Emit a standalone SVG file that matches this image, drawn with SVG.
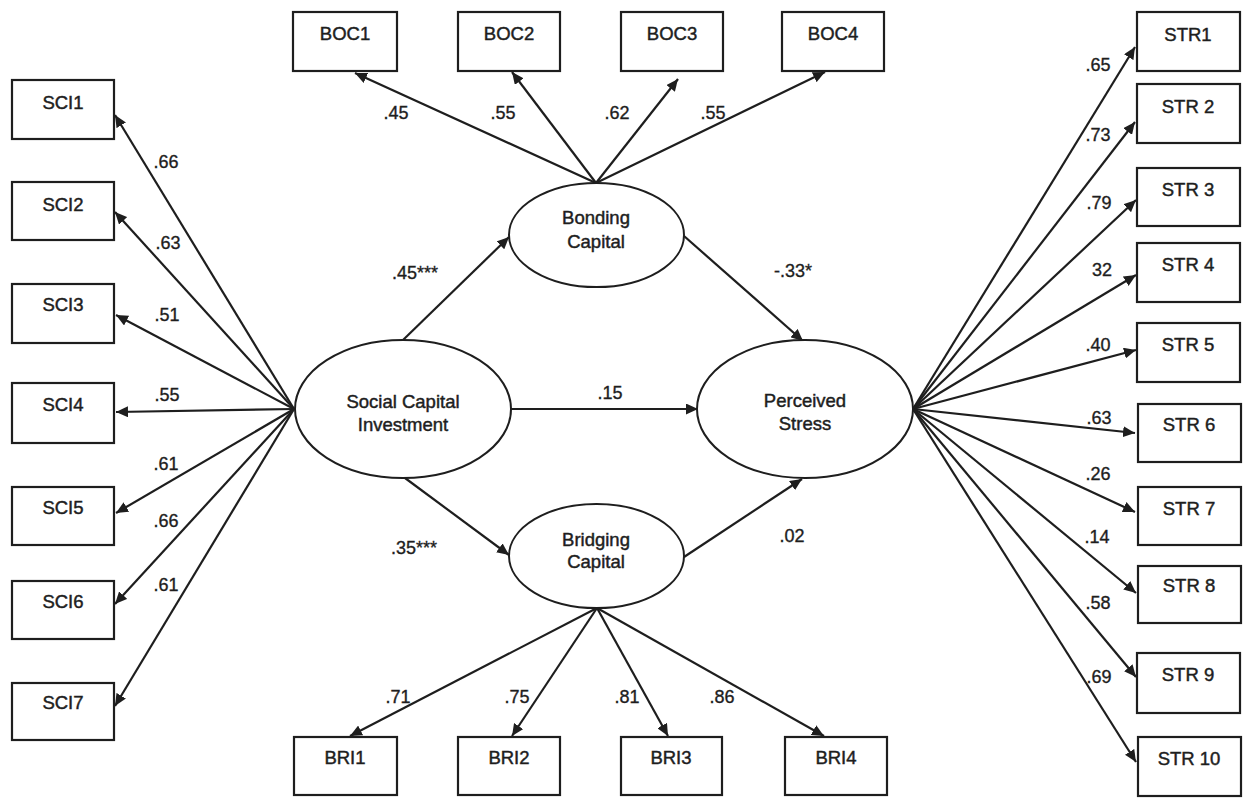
<svg xmlns="http://www.w3.org/2000/svg" width="1248" height="798" viewBox="0 0 1248 798">
<style>
  .box { fill: #ffffff; stroke: #1e1e1e; stroke-width: 2.2; }
  .ell { fill: #ffffff; stroke: #1e1e1e; stroke-width: 2; }
  .t { font-family: "Liberation Sans", Arial, sans-serif; font-size: 18.5px; fill: #1e1e1e; stroke: #1e1e1e; stroke-width: 0.45; text-anchor: middle; }
  .n { font-family: "Liberation Sans", Arial, sans-serif; font-size: 18px; fill: #1e1e1e; stroke: #1e1e1e; stroke-width: 0.35; text-anchor: middle; }
  .c line { stroke: #1e1e1e; stroke-width: 2.2; marker-end: url(#ah); }
</style>
<defs>
  <marker id="ah" markerUnits="userSpaceOnUse" markerWidth="13" markerHeight="11" refX="12" refY="5.5" orient="auto">
    <path d="M0,0 L12,5.5 L0,11 z" fill="#1e1e1e"/>
  </marker>
</defs>
<rect width="1248" height="798" fill="#ffffff"/>

<g id="connectors" class="c">
  <!-- SCI -->
  <line x1="294" y1="409" x2="115" y2="115"/>
  <line x1="294" y1="409" x2="115" y2="212"/>
  <line x1="294" y1="409" x2="116" y2="315"/>
  <line x1="294" y1="409" x2="116" y2="412"/>
  <line x1="294" y1="409" x2="116" y2="513"/>
  <line x1="294" y1="409" x2="115" y2="604"/>
  <line x1="294" y1="409" x2="115" y2="706"/>
  <!-- STR -->
  <line x1="913" y1="409" x2="1135" y2="47"/>
  <line x1="913" y1="409" x2="1135" y2="122"/>
  <line x1="913" y1="409" x2="1136" y2="200"/>
  <line x1="913" y1="409" x2="1136" y2="275"/>
  <line x1="913" y1="409" x2="1136" y2="350"/>
  <line x1="913" y1="409" x2="1135" y2="433"/>
  <line x1="913" y1="409" x2="1135" y2="512"/>
  <line x1="913" y1="409" x2="1136" y2="593"/>
  <line x1="913" y1="409" x2="1136" y2="677"/>
  <line x1="913" y1="409" x2="1136" y2="762"/>
  <!-- BOC -->
  <line x1="596" y1="183" x2="355" y2="73"/>
  <line x1="596" y1="183" x2="512" y2="72"/>
  <line x1="596" y1="183" x2="678" y2="79"/>
  <line x1="596" y1="183" x2="825" y2="72"/>
  <!-- BRI -->
  <line x1="597" y1="608" x2="350" y2="736"/>
  <line x1="597" y1="608" x2="512" y2="736"/>
  <line x1="597" y1="608" x2="668" y2="736"/>
  <line x1="597" y1="608" x2="824" y2="736"/>
  <!-- structural -->
  <line x1="403" y1="340" x2="509" y2="237"/>
  <line x1="684" y1="236" x2="803" y2="341"/>
  <line x1="511" y1="409" x2="698" y2="409"/>
  <line x1="405" y1="478" x2="509" y2="555"/>
  <line x1="684" y1="557" x2="802" y2="479"/>
</g>

<g id="labels">
  <text class="n" x="166" y="168">.66</text>
  <text class="n" x="168" y="249">.63</text>
  <text class="n" x="167" y="321">.51</text>
  <text class="n" x="167" y="401">.55</text>
  <text class="n" x="166" y="470">.61</text>
  <text class="n" x="166" y="527">.66</text>
  <text class="n" x="166" y="591">.61</text>

  <text class="n" x="396" y="119">.45</text>
  <text class="n" x="503" y="119">.55</text>
  <text class="n" x="617" y="119">.62</text>
  <text class="n" x="713" y="119">.55</text>

  <text class="n" x="398" y="703">.71</text>
  <text class="n" x="517" y="703">.75</text>
  <text class="n" x="627" y="703">.81</text>
  <text class="n" x="722" y="703">.86</text>

  <text class="n" x="1098" y="71">.65</text>
  <text class="n" x="1098" y="141">.73</text>
  <text class="n" x="1099" y="209">.79</text>
  <text class="n" x="1102" y="276">32</text>
  <text class="n" x="1098" y="351">.40</text>
  <text class="n" x="1099" y="424">.63</text>
  <text class="n" x="1098" y="480">.26</text>
  <text class="n" x="1097" y="543">.14</text>
  <text class="n" x="1098" y="609">.58</text>
  <text class="n" x="1099" y="683">.69</text>

  <text class="n" x="415" y="279">.45***</text>
  <text class="n" x="793" y="277">-.33*</text>
  <text class="n" x="610" y="399">.15</text>
  <text class="n" x="414" y="554">.35***</text>
  <text class="n" x="792" y="542">.02</text>
</g>

<g id="SCI1"><rect class="box" x="12" y="80" width="102" height="59"/><text class="t" x="63" y="109">SCI1</text></g>
<g id="SCI2"><rect class="box" x="12" y="182" width="102" height="58"/><text class="t" x="63" y="211">SCI2</text></g>
<g id="SCI3"><rect class="box" x="12" y="284" width="102" height="59"/><text class="t" x="63" y="311">SCI3</text></g>
<g id="SCI4"><rect class="box" x="12" y="383" width="102" height="60"/><text class="t" x="63" y="411">SCI4</text></g>
<g id="SCI5"><rect class="box" x="12" y="487" width="102" height="58"/><text class="t" x="63" y="514">SCI5</text></g>
<g id="SCI6"><rect class="box" x="12" y="581" width="102" height="58"/><text class="t" x="63" y="608">SCI6</text></g>
<g id="SCI7"><rect class="box" x="12" y="683" width="102" height="57"/><text class="t" x="63" y="709">SCI7</text></g>

<g id="BOC1"><rect class="box" x="293" y="12" width="104" height="59"/><text class="t" x="345" y="40">BOC1</text></g>
<g id="BOC2"><rect class="box" x="458" y="12" width="102" height="59"/><text class="t" x="509" y="40">BOC2</text></g>
<g id="BOC3"><rect class="box" x="621" y="12" width="102" height="59"/><text class="t" x="672" y="40">BOC3</text></g>
<g id="BOC4"><rect class="box" x="782" y="12" width="102" height="59"/><text class="t" x="833" y="40">BOC4</text></g>

<g id="BRI1"><rect class="box" x="294" y="737" width="103" height="58"/><text class="t" x="345" y="764">BRI1</text></g>
<g id="BRI2"><rect class="box" x="458" y="737" width="102" height="58"/><text class="t" x="509" y="764">BRI2</text></g>
<g id="BRI3"><rect class="box" x="621" y="737" width="101" height="58"/><text class="t" x="671" y="764">BRI3</text></g>
<g id="BRI4"><rect class="box" x="785" y="737" width="102" height="58"/><text class="t" x="836" y="764">BRI4</text></g>

<g id="STR1"><rect class="box" x="1137" y="12" width="103" height="59"/><text class="t" x="1188" y="41">STR1</text></g>
<g id="STR2"><rect class="box" x="1137" y="84" width="103" height="59"/><text class="t" x="1188" y="113">STR 2</text></g>
<g id="STR3"><rect class="box" x="1137" y="168" width="103" height="58"/><text class="t" x="1188" y="196">STR 3</text></g>
<g id="STR4"><rect class="box" x="1137" y="243" width="103" height="59"/><text class="t" x="1188" y="271">STR 4</text></g>
<g id="STR5"><rect class="box" x="1137" y="323" width="103" height="59"/><text class="t" x="1188" y="351">STR 5</text></g>
<g id="STR6"><rect class="box" x="1138" y="404" width="103" height="58"/><text class="t" x="1189" y="431">STR 6</text></g>
<g id="STR7"><rect class="box" x="1138" y="487" width="103" height="58"/><text class="t" x="1189" y="515">STR 7</text></g>
<g id="STR8"><rect class="box" x="1138" y="566" width="103" height="57"/><text class="t" x="1189" y="592">STR 8</text></g>
<g id="STR9"><rect class="box" x="1137" y="653" width="103" height="60"/><text class="t" x="1188" y="681">STR 9</text></g>
<g id="STR10"><rect class="box" x="1138" y="737" width="103" height="59"/><text class="t" x="1189" y="765">STR 10</text></g>

<g id="SocialCapitalInvestment"><ellipse class="ell" cx="403" cy="409" rx="108" ry="69"/><text class="t" x="403" y="408">Social Capital</text><text class="t" x="403" y="431">Investment</text></g>
<g id="PerceivedStress"><ellipse class="ell" cx="805" cy="409" rx="108" ry="69"/><text class="t" x="805" y="407">Perceived</text><text class="t" x="805" y="430">Stress</text></g>
<g id="BondingCapital"><ellipse class="ell" cx="596.5" cy="235" rx="87.5" ry="52"/><text class="t" x="596" y="224">Bonding</text><text class="t" x="596" y="248">Capital</text></g>
<g id="BridgingCapital"><ellipse class="ell" cx="596.5" cy="556" rx="87.5" ry="52"/><text class="t" x="596" y="546">Bridging</text><text class="t" x="596" y="568">Capital</text></g>
</svg>
